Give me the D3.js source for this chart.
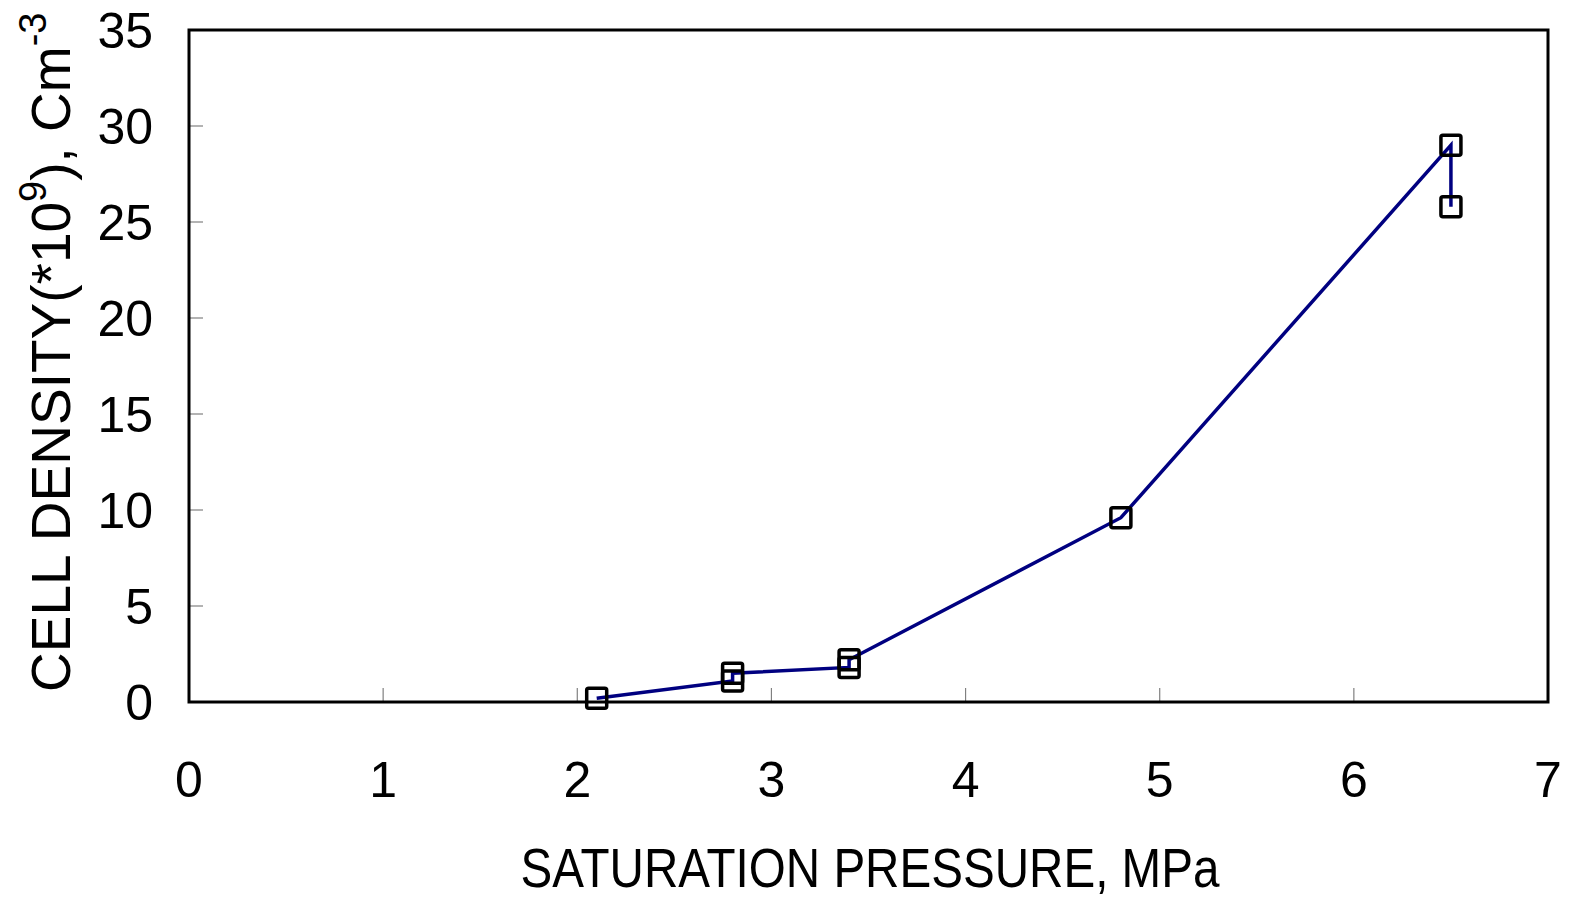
<!DOCTYPE html>
<html>
<head>
<meta charset="utf-8">
<script src="https://cdn.jsdelivr.net/npm/d3@7"></script>
<style>
  body { margin: 0; background: #fff; }
  text { font-family: "Liberation Sans", Arial, sans-serif; fill: #000; }
</style>
</head>
<body>
<script>
'use strict';

// saturation pressure (MPa) and cell density (*10^9 cm^-3), in plotted order
const pressure = [2.1, 2.8, 2.8, 3.4, 3.4, 4.8, 6.5, 6.5];
const density  = [0.2, 1.1, 1.5, 1.8, 2.2, 9.6, 29.0, 25.8];
const xTicks = [0, 1, 2, 3, 4, 5, 6, 7];
const yTicks = [0, 5, 10, 15, 20, 25, 30, 35];

const margin = {top: 30, right: 25, bottom: 198, left: 189},
      W = 1573, H = 900,
      width = W - margin.left - margin.right,
      height = H - margin.top - margin.bottom;

const points = pressure.map((p, i) => ({x: p, y: density[i]}));

const x = d3.scaleLinear().domain([0, 7]).range([0, width]);
const y = d3.scaleLinear().domain([0, 35]).range([height, 0]);

const svg = d3.select("body").append("svg")
    .attr("width", W)
    .attr("height", H);

const g = svg.append("g")
    .attr("transform", "translate(" + margin.left + "," + margin.top + ")");

// inward gray ticks
g.selectAll(".xt").data(xTicks.slice(1, -1)).enter().append("line")
    .attr("x1", d => x(d)).attr("x2", d => x(d))
    .attr("y1", height).attr("y2", height - 14)
    .attr("stroke", "#808080").attr("stroke-width", 1.2);

g.selectAll(".yt").data(yTicks.slice(1, -1)).enter().append("line")
    .attr("x1", 0).attr("x2", 14)
    .attr("y1", d => y(d)).attr("y2", d => y(d))
    .attr("stroke", "#808080").attr("stroke-width", 1.2);

// frame
g.append("rect")
    .attr("width", width).attr("height", height)
    .attr("fill", "none").attr("stroke", "#000").attr("stroke-width", 3);

// tick labels
g.selectAll(".xl").data(xTicks).enter().append("text")
    .attr("x", d => x(d)).attr("y", height + 95)
    .attr("text-anchor", "middle")
    .style("font-size", "50px")
    .text(d => d);

g.selectAll(".yl").data(yTicks).enter().append("text")
    .attr("x", -36).attr("y", d => y(d)).attr("dy", "0.35em")
    .attr("text-anchor", "end")
    .style("font-size", "50px")
    .text(d => d);

// data line + markers
const line = d3.line().x(d => x(d.x)).y(d => y(d.y));

g.append("path").datum(points)
    .attr("d", line)
    .attr("fill", "none")
    .attr("stroke", "#000080")
    .attr("stroke-width", 3.5);

g.selectAll(".pt").data(points).enter().append("rect")
    .attr("x", d => x(d.x) - 10).attr("y", d => y(d.y) - 10)
    .attr("width", 20).attr("height", 20)
    .attr("rx", 2)
    .attr("fill", "none").attr("stroke", "#000").attr("stroke-width", 3.5);

// axis titles
svg.append("text")
    .attr("transform", "translate(870,887) scale(0.85,1)")
    .attr("text-anchor", "middle")
    .style("font-size", "56px")
    .text("SATURATION PRESSURE, MPa");

const yt = svg.append("text")
    .attr("transform", "translate(70,692) rotate(-90)")
    .style("font-size", "55px");
yt.append("tspan").text("CELL DENSITY(*10");
yt.append("tspan").attr("dy", -24).style("font-size", "38px").text("9");
yt.append("tspan").attr("dy", 24).text("),  Cm");
yt.append("tspan").attr("dy", -24).style("font-size", "38px").text("-3");
</script>
</body>
</html>
